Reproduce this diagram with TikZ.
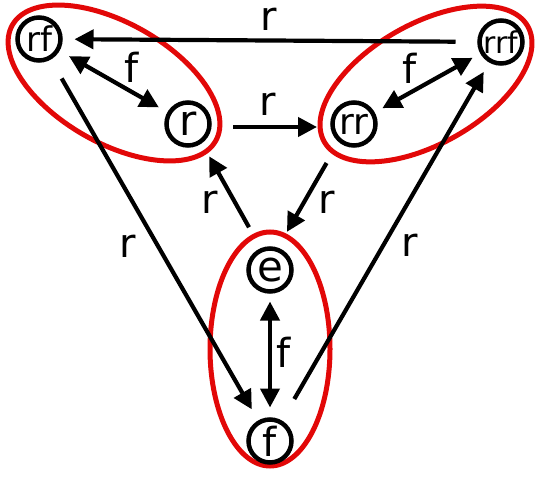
\documentclass[tikz,border=0pt]{standalone}
\usepackage{fontspec}
\setmainfont{DejaVu Sans}
\usetikzlibrary{arrows.meta}
\definecolor{grpred}{RGB}{226,8,8}
\tikzset{
  st/.style={circle, draw, line width=4.5pt, minimum size=43pt, inner sep=0pt, outer sep=0pt},
  grp/.style={draw=grpred, line width=5pt},
  tipT/.tip={Triangle[length=19pt,width=19pt]},
  edge/.style={line width=4.2pt, -tipT},
  dbl/.style={line width=4.2pt, tipT-tipT},
  lab/.style={inner sep=0pt, font=\fontsize{40}{42}\selectfont}
}
\begin{document}
\begin{tikzpicture}[x=1pt,y=-1pt]
\useasboundingbox (0,0) rectangle (540,478);
% group ellipses
\draw[grp, rotate around={-29.7:(114,83)}] (114,83) ellipse [x radius=117, y radius=60];
\draw[grp, rotate around={29.6:(426,84)}] (426,84) ellipse [x radius=117, y radius=60];
\draw[grp] (270,349) ellipse [x radius=60, y radius=117];
% states
\node[st, font=\fontsize{34}{36}\selectfont] (rf) at (39,39) {rf};
\node[st, font=\fontsize{42}{44}\selectfont] (r) at (188,124) {r};
\node[st, font=\fontsize{36}{38}\selectfont] (rr) at (354,124) {rr};
\node[st, font=\fontsize{30}{32}\selectfont] (rrf) at (501,42) {rrf};
\node[st, font=\fontsize{42}{44}\selectfont] (e) at (270,270) {e};
\node[st, font=\fontsize{40}{42}\selectfont] (f) at (270,441) {f};
% transitions
\draw[edge, shorten <=24pt, shorten >=14pt] (rrf) -- (rf);
\draw[dbl, shorten <=13pt, shorten >=12pt] (rf) -- (r);
\draw[edge, shorten <=45pt, shorten >=37pt] ([yshift=-3pt]r.center) -- ([yshift=-3pt]rr.center);
\draw[dbl, shorten <=11pt, shorten >=11pt] (rr) -- (rrf);
\draw[edge, shorten <=45pt, shorten >=44pt] ([xshift=-5pt]rr.center) -- ([xshift=-5pt]e.center);
\draw[edge, shorten <=49pt, shorten >=37pt] ([xshift=3pt]e.center) -- ([xshift=3pt]r.center);
\draw[dbl, shorten <=10pt, shorten >=12pt] (e) -- (f);
\draw[edge, shorten <=24pt, shorten >=15pt] (rf) -- (f);
\draw[edge, shorten <=27pt, shorten >=13pt] (f) -- (rrf);
% labels
\node[lab] (l1) at (269,19) {r};
\node[lab] (l2) at (132,67) {f};
\node[lab] (l3) at (268,104) {r};
\node[lab] (l4) at (410,68) {f};
\node[lab] (l5) at (210,202) {r};
\node[lab] (l6) at (327,202) {r};
\node[lab] (l7) at (284,352) {f};
\node[lab] (l8) at (128,246) {r};
\node[lab] (l9) at (410,245) {r};
\end{tikzpicture}
\end{document}
